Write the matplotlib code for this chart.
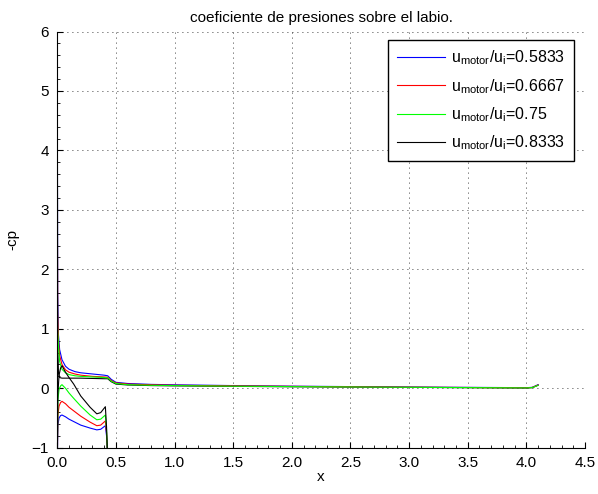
import matplotlib.pyplot as plt
from matplotlib.ticker import MultipleLocator

# Speed ratios u_motor/u_i
ratios = ['0.5833', '0.6667', '0.75', '0.8333']
colors = ['blue', 'red', 'lime', 'black']

# Outer surface of the lip (leading edge -> end of nacelle)
x_upper = [0, 0.003, 0.01, 0.02, 0.04, 0.07, 0.1, 0.15, 0.2, 0.3, 0.4, 0.43,
           0.46, 0.5, 0.6, 0.8, 1.0, 1.5, 2.0, 2.5, 3.0, 3.5, 4.0, 4.05, 4.1]
cp_upper_05833 = [5.6, 1.6, 0.9, 0.65, 0.48, 0.37, 0.32, 0.28, 0.26, 0.24, 0.22, 0.21,
                  0.15, 0.10, 0.08, 0.065, 0.058, 0.045, 0.035, 0.028, 0.02, 0.015, 0.01, 0.015, 0.06]
cp_upper_06667 = [3.6, 1.3, 0.8, 0.55, 0.40, 0.31, 0.27, 0.24, 0.22, 0.20, 0.19, 0.185,
                  0.13, 0.09, 0.07, 0.058, 0.05, 0.04, 0.032, 0.025, 0.018, 0.013, 0.008, 0.013, 0.055]
cp_upper_075 = [2.0, 1.0, 0.7, 0.45, 0.32, 0.26, 0.23, 0.21, 0.2, 0.19, 0.18, 0.175,
                0.12, 0.08, 0.06, 0.05, 0.045, 0.035, 0.028, 0.022, 0.016, 0.011, 0.006, 0.011, 0.05]
cp_upper_08333 = [6.5, 0.8, 0.25, 0.18, 0.17, 0.17, 0.17, 0.17, 0.17, 0.165, 0.16, 0.16,
                  0.11, 0.07, 0.055, 0.045, 0.04, 0.032, 0.025, 0.02, 0.015, 0.01, 0.005, 0.01, 0.05]

# Inner surface of the lip
x_lower = [0, 0.005, 0.015, 0.028, 0.04, 0.07, 0.1, 0.14, 0.2, 0.28, 0.337, 0.37, 0.41, 0.42, 0.43]
cp_lower_05833 = [-1.2, -0.62, -0.5, -0.46, -0.45, -0.48, -0.52, -0.56, -0.62, -0.67, -0.7, -0.69, -0.63, -0.8, -1.2]
cp_lower_06667 = [-1.2, -0.45, -0.3, -0.24, -0.22, -0.26, -0.32, -0.38, -0.47, -0.57, -0.63, -0.62, -0.55, -0.75, -1.2]
cp_lower_075 = [-1.2, -0.2, -0.02, 0.04, 0.06, 0.0, -0.08, -0.17, -0.3, -0.45, -0.53, -0.52, -0.45, -0.7, -1.2]
cp_lower_08333 = [-1.2, -0.1, 0.22, 0.34, 0.38, 0.27, 0.18, 0.07, -0.13, -0.32, -0.43, -0.41, -0.31, -0.65, -1.2]

cp_upper = [cp_upper_05833, cp_upper_06667, cp_upper_075, cp_upper_08333]
cp_lower = [cp_lower_05833, cp_lower_06667, cp_lower_075, cp_lower_08333]

plt.rcParams['font.family'] = ['Liberation Sans', 'DejaVu Sans']
plt.rcParams['font.size'] = 11
plt.rcParams['mathtext.fontset'] = 'custom'
plt.rcParams['mathtext.rm'] = 'Liberation Sans'

fig = plt.figure(figsize=(5.98, 4.94), dpi=100)
ax = fig.add_axes([0.0958, 0.0937, 0.8824, 0.8425])

# upper curves: black first so the leading edge spikes look like the original
for i in [3, 0, 1, 2]:
    ax.plot(x_upper, cp_upper[i], color=colors[i], lw=0.8)
handles = []
for i in range(4):
    h, = ax.plot(x_lower, cp_lower[i], color=colors[i], lw=0.8)
    handles.append(h)

labels = [r'u$_{\mathrm{motor}}$/u$_{\mathrm{i}}$=' + r for r in ratios]
leg = ax.legend(handles, labels, loc='upper right', bbox_to_anchor=(0.979, 0.98),
                borderaxespad=0, fancybox=False, framealpha=1, edgecolor='black',
                handlelength=3.0, handletextpad=0.4, labelspacing=0.6,
                borderpad=0.55, fontsize=11.5)
leg.get_frame().set_linewidth(1.0)

ax.set_xlim(0, 4.5)
ax.set_ylim(-1, 6)
ax.xaxis.set_major_locator(MultipleLocator(0.5))
ax.yaxis.set_major_locator(MultipleLocator(1))
ax.xaxis.set_minor_locator(MultipleLocator(0.1))
ax.yaxis.set_minor_locator(MultipleLocator(0.2))
ax.tick_params(which='both', direction='in')
ax.tick_params(which='major', length=4, pad=6)
ax.tick_params(which='minor', length=2)
ax.spines['top'].set_visible(False)
ax.spines['right'].set_visible(False)
ax.grid(True, color='black', linestyle=(0, (1, 5)), linewidth=0.6)

ax.set_xlabel('x', labelpad=0)
ax.set_ylabel('-cp', labelpad=9)
ax.set_title('coeficiente de presiones sobre el labio.', fontsize=11, pad=7)

fig.savefig('out.png', dpi=100)
